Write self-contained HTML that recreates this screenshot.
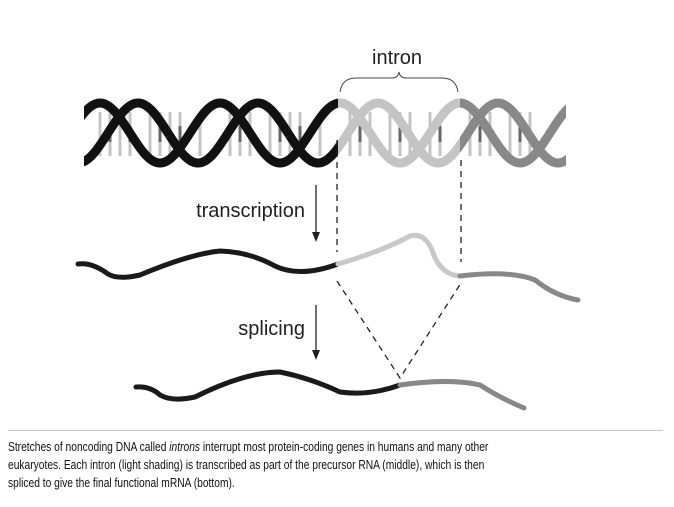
<!DOCTYPE html>
<html><head><style>
body{margin:0;background:#fff;width:674px;height:507px;overflow:hidden;position:relative;font-family:"Liberation Sans",sans-serif}
.cap{position:absolute;left:8px;top:438px;white-space:nowrap;font-size:12.5px;line-height:18px;color:#111;transform:scaleX(0.82);transform-origin:0 0}
.rule{position:absolute;left:8px;top:430px;width:655px;height:1px;background:#c8c8c8}
</style></head><body>
<svg width="674" height="430" style="position:absolute;left:0;top:0">
<defs>
<path id="s" d="M -20,103 C 1.85,103 18.15,163 40,163 S 78.15,103 100,103 S 138.15,163 160,163 S 198.15,103 220,103 S 258.15,163 280,163 S 318.15,103 340,103 S 378.15,163 400,163 S 438.15,103 460,103 S 498.15,163 520,163 S 558.15,103 580,103"/>
<clipPath id="c1"><rect x="84" y="0" width="254" height="200"/></clipPath>
<clipPath id="c2"><rect x="338" y="0" width="122" height="200"/></clipPath>
<clipPath id="c3"><rect x="460" y="0" width="106" height="200"/></clipPath>
</defs>
<g stroke-width="3">
<g stroke="#c4c4c4">
<path d="M100 112V156M110 112V156M120 112V156M130 112V156M150 112V156M160 112V156M170 112V156M180 112V156M200 112V156M230 112V156M240 112V156M250 112V156M270 112V156M280 112V156M290 112V156M300 112V156M320 112V156M350 112V156M360 112V156M370 112V156M390 112V156M400 112V156M410 112V156M430 112V156M440 112V156M470 112V156M480 112V156M490 112V156M510 112V156M520 112V156M530 112V156"/>
</g>
<g stroke="#666">
<path d="M110 126V142M130 126V142M160 126V142M180 126V142M240 126V142M280 126V142M300 126V142M360 126V142M400 126V142M440 126V142M480 126V142M520 126V142"/>
</g>
</g>
<g fill="none" stroke-width="9">
<g clip-path="url(#c1)" stroke="#111"><use href="#s"/><use href="#s" transform="translate(38,0)"/></g>
<g clip-path="url(#c2)" stroke="#c4c4c4"><use href="#s"/><use href="#s" transform="translate(38,0)"/></g>
<g clip-path="url(#c3)" stroke="#888"><use href="#s"/><use href="#s" transform="translate(38,0)"/></g>
</g>
<text x="372" y="64" font-size="20" fill="#222">intron</text>
<path d="M340 92 Q342 78 356 78 L392 78 Q398 78 399 72 Q400 78 406 78 L442 78 Q456 78 458 92" fill="none" stroke="#444" stroke-width="1"/>
<g stroke="#222" stroke-width="1.3" stroke-dasharray="6,5" fill="none">
<path d="M337 140V252"/><path d="M461 160V262"/>
<path d="M337 281L400 378L461 283"/>
</g>
<g stroke="#222" stroke-width="1.3"><path d="M316 185V238"/><path d="M316 305V356"/></g>
<path d="M312 232L316 242L320 232Z M312 350L316 360L320 350Z" fill="#222"/>
<text x="305" y="217" font-size="20" text-anchor="end" fill="#222">transcription</text>
<text x="305" y="335" font-size="20" text-anchor="end" fill="#222">splicing</text>
<g fill="none" stroke-width="5" stroke-linecap="round">
<path d="M78 264 Q92 262 108 274 Q118 280 140 275 Q190 254 220 251 Q250 252 275 266 Q300 278 338 264" stroke="#1a1a1a"/>
<path d="M338 264 Q380 252 410 236 Q424 232 432 250 Q440 275 460 276" stroke="#c8c8c8"/>
<path d="M460 276 Q510 270 535 280 Q555 296 578 300" stroke="#888"/>
<path d="M136 387 Q150 386 160 395 Q172 402 195 397 Q245 372 280 372 Q310 378 340 392 Q370 396 400 385" stroke="#1a1a1a"/>
<path d="M400 385 Q450 378 480 385 Q500 398 524 408" stroke="#888"/>
</g>
</svg>
<div class="rule"></div>
<div class="cap">Stretches of noncoding DNA called <i>introns</i> interrupt most protein-coding genes in humans and many other<br>eukaryotes. Each intron (light shading) is transcribed as part of the precursor RNA (middle), which is then<br>spliced to give the final functional mRNA (bottom).</div>
</body></html>
